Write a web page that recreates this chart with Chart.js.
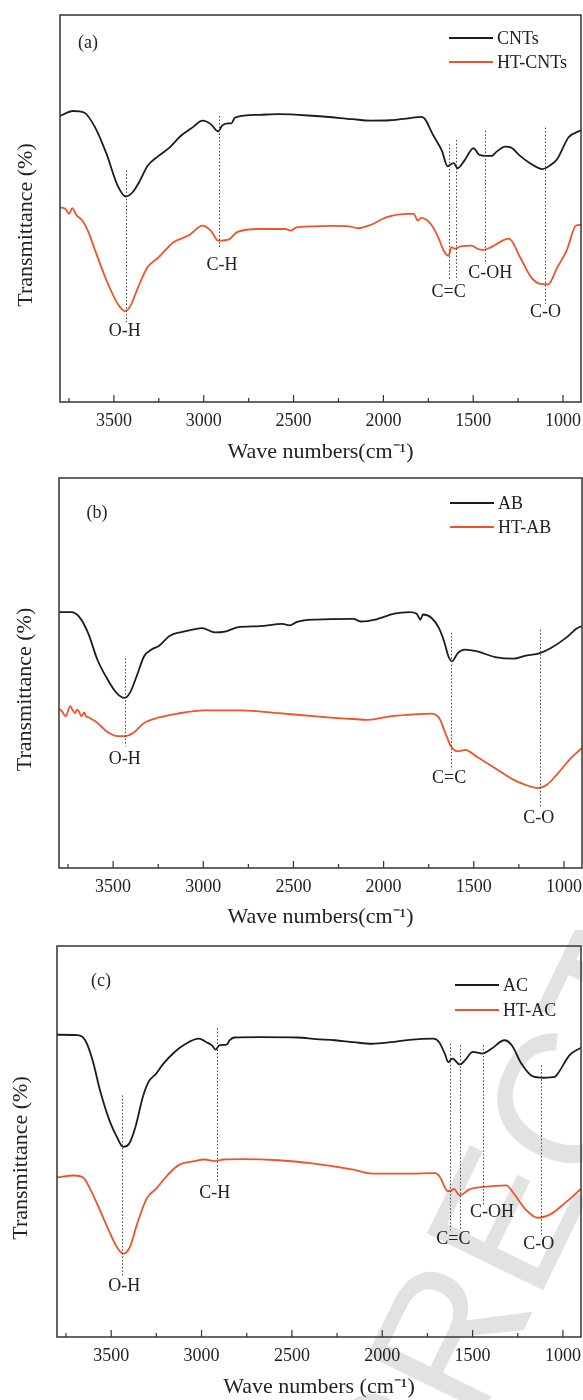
<!DOCTYPE html>
<html>
<head>
<meta charset="utf-8">
<script src="https://cdn.jsdelivr.net/npm/chart.js@4.4.0/dist/chart.umd.min.js"></script>
<style>
  body { margin: 0; background: #fff; }
  canvas { position: absolute; left: 0; }
</style>
</head>
<body>
<canvas id="chartA" width="583" height="470" style="top:0"></canvas>
<canvas id="chartB" width="583" height="460" style="top:470px"></canvas>
<canvas id="chartC" width="583" height="470" style="top:930px"></canvas>
<script>
// FTIR spectra: wave number (cm-1) vs transmittance (arbitrary, 0-100 of plot height)

const xTickValues = [3750, 3500, 3250, 3000, 2750, 2500, 2250, 2000, 1750, 1500, 1250, 1000];
const xTickLabels = [3500, 3000, 2500, 2000, 1500, 1000];

// (a) CNTs / HT-CNTs
const cntsWn = [3800, 3728, 3666, 3604, 3541, 3479, 3434, 3396, 3355, 3313, 3251, 3189, 3127, 3064, 3006, 2961, 2919, 2898, 2867, 2846, 2826, 2691, 2587, 2380, 2172, 2068, 1965, 1861, 1788, 1768, 1726, 1674, 1643, 1622, 1608, 1587, 1550, 1498, 1467, 1426, 1395, 1374, 1322, 1291, 1239, 1177, 1114, 1073, 1032, 969, 900];
const cntsT = [73.9, 75.2, 74.8, 70.9, 64.1, 55.9, 53.1, 54.2, 57.2, 61.0, 63.6, 65.8, 68.8, 70.9, 72.7, 71.8, 69.9, 71.4, 72.0, 72.0, 73.5, 74.2, 74.4, 73.9, 73.1, 72.7, 72.8, 73.3, 73.7, 73.1, 69.2, 64.9, 60.9, 61.5, 61.7, 60.4, 62.3, 65.6, 63.9, 63.6, 63.6, 64.5, 66.0, 65.8, 63.6, 61.5, 60.2, 61.1, 62.8, 68.4, 70.2];
const htCntsWn = [3800, 3770, 3749, 3732, 3707, 3676, 3645, 3604, 3541, 3479, 3438, 3407, 3365, 3313, 3251, 3168, 3085, 3006, 2961, 2919, 2857, 2815, 2691, 2546, 2515, 2483, 2276, 2193, 2141, 2068, 1985, 1861, 1830, 1809, 1788, 1736, 1695, 1664, 1637, 1622, 1601, 1570, 1508, 1477, 1446, 1405, 1301, 1239, 1177, 1125, 1083, 1032, 980, 928, 900];
const htCntsT = [50.3, 49.9, 48.6, 50.1, 48.2, 46.9, 44.3, 39.1, 31.4, 25.4, 23.5, 24.9, 29.7, 34.8, 37.4, 41.3, 43.0, 45.6, 44.3, 41.7, 42.1, 43.9, 44.7, 44.7, 44.3, 45.1, 45.5, 45.4, 44.9, 45.8, 47.7, 48.6, 48.6, 46.9, 47.6, 46.0, 42.6, 39.1, 37.8, 40.0, 39.6, 40.2, 40.4, 39.6, 39.3, 39.9, 42.2, 37.4, 32.2, 30.5, 30.4, 34.8, 39.1, 45.6, 45.8];
const aLineWn = [3430, 2915, 1633, 1593, 1436, 1098];
const aLineTop = [59.8, 73.9, 66.6, 67.7, 70.1, 70.9];
const aLineBottom = [20.6, 39.6, 31.4, 31.4, 35.7, 25.4];
const aLabels = ['O-H', 'C-H', 'C=C', 'C-OH', 'C-O'];
const aLabelWn = [3440, 2898, 1637, 1405, 1098];
const aLabelT = [18.2, 35.3, 28.4, 33.3, 23.2];

// (b) AB / HT-AB
const abWn = [3800, 3732, 3690, 3639, 3587, 3535, 3483, 3438, 3407, 3370, 3328, 3287, 3245, 3183, 3121, 3059, 3007, 2935, 2873, 2811, 2686, 2562, 2521, 2479, 2376, 2169, 2127, 2045, 1941, 1858, 1817, 1796, 1782, 1734, 1693, 1662, 1641, 1620, 1589, 1548, 1486, 1382, 1279, 1217, 1134, 1072, 989, 927, 900];
const abT = [65.6, 65.6, 64.5, 60.3, 53.4, 48.7, 45.0, 43.6, 44.9, 49.1, 54.3, 56.0, 57.0, 59.6, 60.5, 61.1, 61.5, 60.4, 60.7, 61.7, 62.0, 62.6, 62.2, 63.1, 63.7, 63.9, 63.2, 63.7, 65.2, 65.6, 65.2, 63.7, 65.0, 64.1, 61.5, 57.7, 54.3, 53.0, 55.1, 56.0, 55.6, 54.1, 53.7, 54.4, 55.1, 56.4, 59.0, 61.5, 62.0];
const htAbWn = [3800, 3784, 3763, 3738, 3722, 3711, 3700, 3690, 3676, 3659, 3650, 3639, 3620, 3605, 3587, 3535, 3473, 3432, 3390, 3328, 3245, 3142, 2997, 2790, 2583, 2376, 2169, 2086, 1962, 1858, 1734, 1693, 1651, 1627, 1589, 1548, 1486, 1382, 1279, 1217, 1145, 1093, 1031, 969, 900];
const htAbT = [40.8, 40.2, 38.9, 41.5, 40.3, 39.7, 40.6, 40.2, 38.9, 39.9, 38.8, 38.7, 38.2, 37.8, 37.2, 35.0, 33.8, 33.8, 34.6, 37.2, 38.6, 39.6, 40.4, 40.4, 39.7, 38.9, 38.2, 38.0, 38.9, 39.3, 39.6, 38.5, 33.8, 31.2, 29.9, 30.3, 28.6, 25.6, 22.6, 21.4, 20.5, 21.4, 24.4, 27.8, 30.8];
const bLineWn = [3432, 1624, 1134];
const bLineTop = [53.8, 60.3, 61.1];
const bLineBottom = [31.2, 25.2, 15.8];
const bLabels = ['O-H', 'C=C', 'C-O'];
const bLabelWn = [3436, 1637, 1140];
const bLabelT = [27.9, 23.1, 12.8];

// (c) AC / HT-AC
const acWn = [3800, 3686, 3644, 3603, 3562, 3510, 3469, 3434, 3401, 3366, 3325, 3294, 3252, 3211, 3149, 3087, 3015, 2974, 2943, 2922, 2902, 2861, 2844, 2819, 2675, 2469, 2366, 2262, 2159, 2056, 1953, 1850, 1716, 1685, 1654, 1634, 1613, 1598, 1572, 1541, 1499, 1448, 1396, 1324, 1283, 1231, 1169, 1107, 1045, 1025, 963, 900];
const acT = [77.3, 77.2, 75.9, 70.8, 63.1, 55.4, 51.2, 48.6, 49.4, 53.7, 61.4, 65.2, 67.3, 69.9, 72.9, 75.0, 76.3, 75.4, 74.6, 73.5, 74.6, 74.8, 75.9, 76.6, 76.7, 76.6, 76.2, 75.9, 75.4, 75.0, 75.4, 76.0, 76.3, 75.4, 72.5, 70.3, 71.2, 70.8, 69.7, 70.8, 72.9, 72.5, 73.7, 75.9, 74.6, 70.0, 66.7, 66.3, 66.5, 67.6, 72.1, 74.0];
const htAcWn = [3800, 3706, 3655, 3613, 3562, 3510, 3469, 3434, 3397, 3356, 3304, 3252, 3190, 3129, 3046, 2984, 2922, 2881, 2778, 2572, 2366, 2159, 2056, 1953, 1850, 1706, 1675, 1644, 1623, 1603, 1572, 1520, 1438, 1314, 1272, 1210, 1138, 1066, 983, 900];
const htAcT = [40.8, 41.3, 40.8, 37.5, 32.4, 26.9, 23.0, 21.3, 23.0, 29.0, 35.4, 37.9, 41.3, 43.9, 44.9, 45.4, 45.0, 45.4, 45.5, 45.2, 44.3, 42.8, 41.8, 41.8, 41.8, 41.9, 40.5, 37.5, 37.3, 37.9, 36.2, 37.7, 38.4, 38.8, 36.7, 32.8, 30.5, 31.5, 34.5, 37.9];
const cLineWn = [3438, 2916, 1623, 1569, 1443, 1124];
const cLineTop = [61.8, 78.9, 75.0, 74.6, 74.6, 69.5];
const cLineBottom = [15.3, 39.6, 27.3, 27.3, 33.7, 26.0];
const cLabels = ['O-H', 'C-H', 'C=C', 'C-OH', 'C-O'];
const cLabelWn = [3428, 2927, 1606, 1392, 1134];
const cLabelT = [13.0, 36.8, 25.1, 32.0, 23.7];

const BLACK = '#1c1c1c';
const RED = '#f0522a';
const SERIF = "'Liberation Serif', 'Times New Roman', serif";

function toPoints(wn, t) {
  return wn.map((w, i) => ({ x: w, y: t[i] }));
}

// frame, inward ticks, peak markers, legend and panel tag
const decorPlugin = {
  id: 'decor',
  beforeDraw(chart, args, opts) {
    if (!opts.watermark) return;
    const ctx = chart.ctx;
    const wm = opts.watermark;
    ctx.save();
    ctx.font = wm.size + "px 'Liberation Sans', Arial, sans-serif";
    ctx.fillStyle = '#e2e2e2';
    ctx.translate(wm.x, wm.y);
    ctx.rotate(wm.angle * Math.PI / 180);
    const pre = ctx.measureText(wm.before).width;
    const letter = ctx.measureText(wm.anchor).width;
    ctx.textBaseline = 'alphabetic';
    ctx.fillText(wm.text, -(pre + letter / 2), wm.size * 0.36);
    ctx.restore();
  },
  afterDatasetsDraw(chart, args, opts) {
    const ctx = chart.ctx;
    const area = chart.chartArea;
    const x = chart.scales.x, y = chart.scales.y;
    ctx.save();

    // frame
    ctx.strokeStyle = '#333';
    ctx.lineWidth = 1.5;
    ctx.strokeRect(area.left, area.top, area.right - area.left, area.bottom - area.top);

    // ticks pointing into the plot
    ctx.lineWidth = 1.2;
    xTickValues.forEach(v => {
      const px = x.getPixelForValue(v);
      const len = xTickLabels.includes(v) ? 7 : 4;
      ctx.beginPath();
      ctx.moveTo(px, area.bottom);
      ctx.lineTo(px, area.bottom - len);
      ctx.stroke();
    });

    // dotted peak lines
    ctx.strokeStyle = '#444';
    ctx.lineWidth = 1;
    ctx.setLineDash([1.5, 2]);
    opts.lineWn.forEach((w, i) => {
      const px = Math.round(x.getPixelForValue(w)) + 0.5;
      ctx.beginPath();
      ctx.moveTo(px, y.getPixelForValue(opts.lineTop[i]));
      ctx.lineTo(px, y.getPixelForValue(opts.lineBottom[i]));
      ctx.stroke();
    });
    ctx.setLineDash([]);

    // peak labels
    ctx.fillStyle = '#222';
    ctx.font = '18px ' + SERIF;
    ctx.textAlign = 'center';
    ctx.textBaseline = 'middle';
    opts.labels.forEach((txt, i) => {
      ctx.fillText(txt, x.getPixelForValue(opts.labelWn[i]), y.getPixelForValue(opts.labelT[i]));
    });

    // panel tag
    ctx.fillText(opts.tag, opts.tagX, opts.tagY);

    // legend
    ctx.textAlign = 'left';
    chart.data.datasets.forEach((ds, i) => {
      const ly = opts.legendY[i];
      ctx.strokeStyle = ds.borderColor;
      ctx.lineWidth = 2;
      ctx.beginPath();
      ctx.moveTo(opts.legendX, ly);
      ctx.lineTo(opts.legendX + 44, ly);
      ctx.stroke();
      ctx.fillStyle = '#222';
      ctx.fillText(ds.label, opts.legendX + 48, ly + 1);
    });
    ctx.restore();
  }
};

function makeChart(id, p) {
  return new Chart(document.getElementById(id), {
    type: 'line',
    data: {
      datasets: [
        { label: p.names[0], data: toPoints(p.blackWn, p.blackT), borderColor: BLACK },
        { label: p.names[1], data: toPoints(p.redWn, p.redT), borderColor: RED }
      ]
    },
    options: {
      responsive: false,
      animation: false,
      layout: { padding: { top: p.padTop, right: p.padRight, left: 0, bottom: 0 } },
      elements: {
        point: { radius: 0 },
        line: { borderWidth: 1.8, cubicInterpolationMode: 'monotone', fill: false }
      },
      plugins: {
        legend: { display: false },
        tooltip: { enabled: false },
        decor: p.decor
      },
      scales: {
        x: {
          type: 'linear',
          reverse: true,
          min: 900,
          max: 3800,
          afterBuildTicks: s => { s.ticks = xTickValues.map(v => ({ value: v })); },
          afterFit: s => { s.height = p.xHeight; s.paddingLeft = 0; s.paddingRight = 0; },
          grid: { display: false, drawTicks: false },
          border: { display: false },
          ticks: {
            autoSkip: false,
            maxRotation: 0,
            padding: 8,
            color: '#222',
            font: { family: SERIF, size: 18 },
            callback: v => xTickLabels.includes(v) ? String(v) : ''
          },
          title: {
            display: true,
            text: p.xTitle,
            color: '#222',
            font: { family: SERIF, size: 22 },
            padding: { top: 0, bottom: p.xTitlePad }
          }
        },
        y: {
          min: 0,
          max: 100,
          afterFit: s => { s.width = p.yWidth; },
          grid: { display: false, drawTicks: false },
          border: { display: false },
          ticks: { display: false },
          title: {
            display: true,
            text: 'Transmittance (%)      ',
            color: '#222',
            font: { family: SERIF, size: 22 },
            padding: { top: p.yTitlePad, bottom: 0 }
          }
        }
      }
    },
    plugins: [decorPlugin]
  });
}

makeChart('chartA', {
  names: ['CNTs', 'HT-CNTs'],
  blackWn: cntsWn, blackT: cntsT, redWn: htCntsWn, redT: htCntsT,
  padTop: 15, padRight: 2, yWidth: 60, xHeight: 68, xTitlePad: 5, yTitlePad: 13,
  xTitle: 'Wave numbers(cm\u207B\u00B9)',
  decor: {
    lineWn: aLineWn, lineTop: aLineTop, lineBottom: aLineBottom,
    labels: aLabels, labelWn: aLabelWn, labelT: aLabelT,
    tag: '(a)', tagX: 88, tagY: 43, legendX: 449, legendY: [38, 62]
  }
});

makeChart('chartB', {
  names: ['AB', 'HT-AB'],
  blackWn: abWn, blackT: abT, redWn: htAbWn, redT: htAbT,
  padTop: 8, padRight: 1, yWidth: 59, xHeight: 62, xTitlePad: 0, yTitlePad: 12,
  xTitle: 'Wave numbers(cm\u207B\u00B9)',
  decor: {
    lineWn: bLineWn, lineTop: bLineTop, lineBottom: bLineBottom,
    labels: bLabels, labelWn: bLabelWn, labelT: bLabelT,
    tag: '(b)', tagX: 97, tagY: 43, legendX: 450, legendY: [33, 57]
  }
});

makeChart('chartC', {
  names: ['AC', 'HT-AC'],
  blackWn: acWn, blackT: acT, redWn: htAcWn, redT: htAcT,
  padTop: 16, padRight: 2, yWidth: 57, xHeight: 63, xTitlePad: 0, yTitlePad: 8,
  xTitle: 'Wave numbers (cm\u207B\u00B9)',
  decor: {
    lineWn: cLineWn, lineTop: cLineTop, lineBottom: cLineBottom,
    labels: cLabels, labelWn: cLabelWn, labelT: cLabelT,
    tag: '(c)', tagX: 101, tagY: 51, legendX: 455, legendY: [55, 80],
    watermark: { text: 'CORRECTED PROOF', before: 'CORR', anchor: 'E', x: 503, y: 288, angle: -64, size: 188 }
  }
});
</script>
</body>
</html>
